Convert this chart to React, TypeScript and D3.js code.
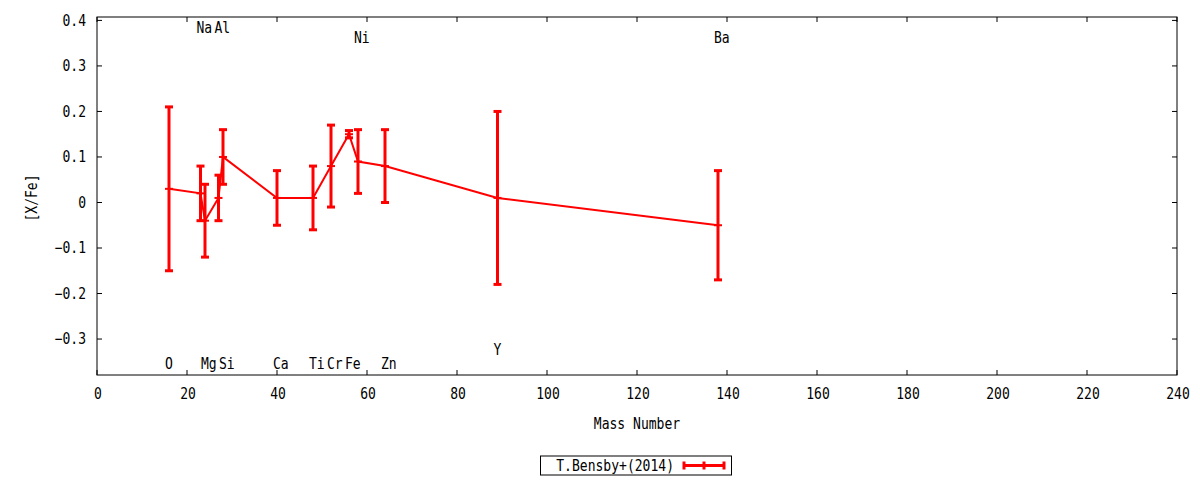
import { useMemo } from "react";
import * as d3 from "d3";

// element data: mass number, [X/Fe], error
const elements = ["O", "Na", "Mg", "Al", "Si", "Ca", "Ti", "Cr", "Fe", "Ni", "Zn", "Y", "Ba"];
const massNumbers = [16, 23, 24, 27, 28, 40, 48, 52, 56, 58, 64, 89, 138];
const abundances = [0.03, 0.02, -0.04, 0.01, 0.1, 0.01, 0.01, 0.08, 0.15, 0.09, 0.08, 0.01, -0.05];
const errors = [0.18, 0.06, 0.08, 0.05, 0.06, 0.06, 0.07, 0.09, 0.008, 0.07, 0.08, 0.19, 0.12];
// y position of each element's label, in data units
const labelY = [-0.355, 0.383, -0.355, 0.383, -0.355, -0.355, -0.355, -0.355, -0.355, 0.362, -0.355, -0.323, 0.362];

const xTicks = d3.range(0, 241, 20);
const yTicks = [-0.3, -0.2, -0.1, 0, 0.1, 0.2, 0.3, 0.4];
const seriesName = "T.Bensby+(2014)";

const W = 1200;
const H = 480;
const margin = { left: 97, right: 23, top: 17, bottom: 105 };
const RED = "#ff0000";
const FONT = "'DejaVu Sans Mono', monospace";

// gnuplot's font is a narrow mono, so squeeze DejaVu Sans Mono horizontally
const Txt = ({ x, y, anchor = "start", rotate = 0, children }: any) => (
    <text
        transform={`translate(${x},${y}) rotate(${rotate}) scale(0.87,1)`}
        textAnchor={anchor}
        dominantBaseline="central"
    >
        {children}
    </text>
);

export default function App() {
    const x = useMemo(
        () => d3.scaleLinear().domain([0, 240]).range([margin.left, W - margin.right]),
        []
    );
    const y = useMemo(
        () => d3.scaleLinear().domain([-0.379, 0.4075]).range([H - margin.bottom, margin.top]),
        []
    );

    const pts = massNumbers.map((m, i) => ({ m, v: abundances[i], e: errors[i], name: elements[i], ly: labelY[i] }));

    const line = d3
        .line<{ m: number; v: number }>()
        .x((d) => x(d.m))
        .y((d) => y(d.v));

    const x0 = margin.left;
    const x1 = W - margin.right;
    const y0 = H - margin.bottom;
    const y1 = margin.top;
    const tick = 5;
    const cap = 4;

    return (
        <div style={{ position: "absolute", left: 0, top: 0 }}>
            <svg width={W} height={H} style={{ display: "block", background: "#fff" }} fontFamily={FONT} fontSize={15}>
                {/* ticks */}
                {yTicks.map((t) => (
                    <g key={"y" + t}>
                        <line x1={x0} x2={x0 + tick} y1={y(t)} y2={y(t)} stroke="#000" />
                        <line x1={x1} x2={x1 - tick} y1={y(t)} y2={y(t)} stroke="#000" />
                        <Txt x={x0 - 11} y={y(t)} anchor="end">
                            {t === 0 ? "0" : d3.format(".1f")(t)}
                        </Txt>
                    </g>
                ))}
                {xTicks.map((t) => (
                    <g key={"x" + t}>
                        <line x1={x(t)} x2={x(t)} y1={y0} y2={y0 - tick} stroke="#000" />
                        <line x1={x(t)} x2={x(t)} y1={y1} y2={y1 + tick} stroke="#000" />
                        <Txt x={x(t) + 1} y={y0 + 19} anchor="middle">
                            {t}
                        </Txt>
                    </g>
                ))}

                {/* element labels */}
                {pts.map((p) => (
                    <Txt key={"l" + p.name} x={x(p.m) - 4} y={y(p.ly)}>
                        {p.name}
                    </Txt>
                ))}

                {/* connecting line */}
                <path d={line(pts) || ""} fill="none" stroke={RED} strokeWidth={2} />

                {/* error bars */}
                {pts.map((p) => (
                    <g key={"e" + p.name} stroke={RED} strokeWidth={3}>
                        <line x1={x(p.m)} x2={x(p.m)} y1={y(p.v - p.e)} y2={y(p.v + p.e)} />
                        <line x1={x(p.m) - cap} x2={x(p.m) + cap} y1={y(p.v - p.e)} y2={y(p.v - p.e)} />
                        <line x1={x(p.m) - cap} x2={x(p.m) + cap} y1={y(p.v + p.e)} y2={y(p.v + p.e)} />
                        <line x1={x(p.m) - cap} x2={x(p.m) + cap} y1={y(p.v)} y2={y(p.v)} strokeWidth={2} />
                    </g>
                ))}

                {/* frame */}
                <rect x={x0} y={y1} width={x1 - x0} height={y0 - y1} fill="none" stroke="#000" />

                {/* axis titles */}
                <Txt x={32} y={(y0 + y1) / 2 + 2} anchor="middle" rotate={-90}>
                    [X/Fe]
                </Txt>
                <Txt x={(x0 + x1) / 2} y={424} anchor="middle">
                    Mass Number
                </Txt>

                {/* legend */}
                <rect x={540.5} y={456} width={191} height={19} fill="none" stroke="#000" />
                <Txt x={674} y={465.5} anchor="end">
                    {seriesName}
                </Txt>
                <g stroke={RED} strokeWidth={3}>
                    <line x1={684} x2={724} y1={465.5} y2={465.5} />
                    <line x1={684} x2={684} y1={461.5} y2={469.5} />
                    <line x1={724} x2={724} y1={461.5} y2={469.5} />
                    <line x1={704} x2={704} y1={461.5} y2={469.5} />
                </g>
            </svg>
        </div>
    );
}
